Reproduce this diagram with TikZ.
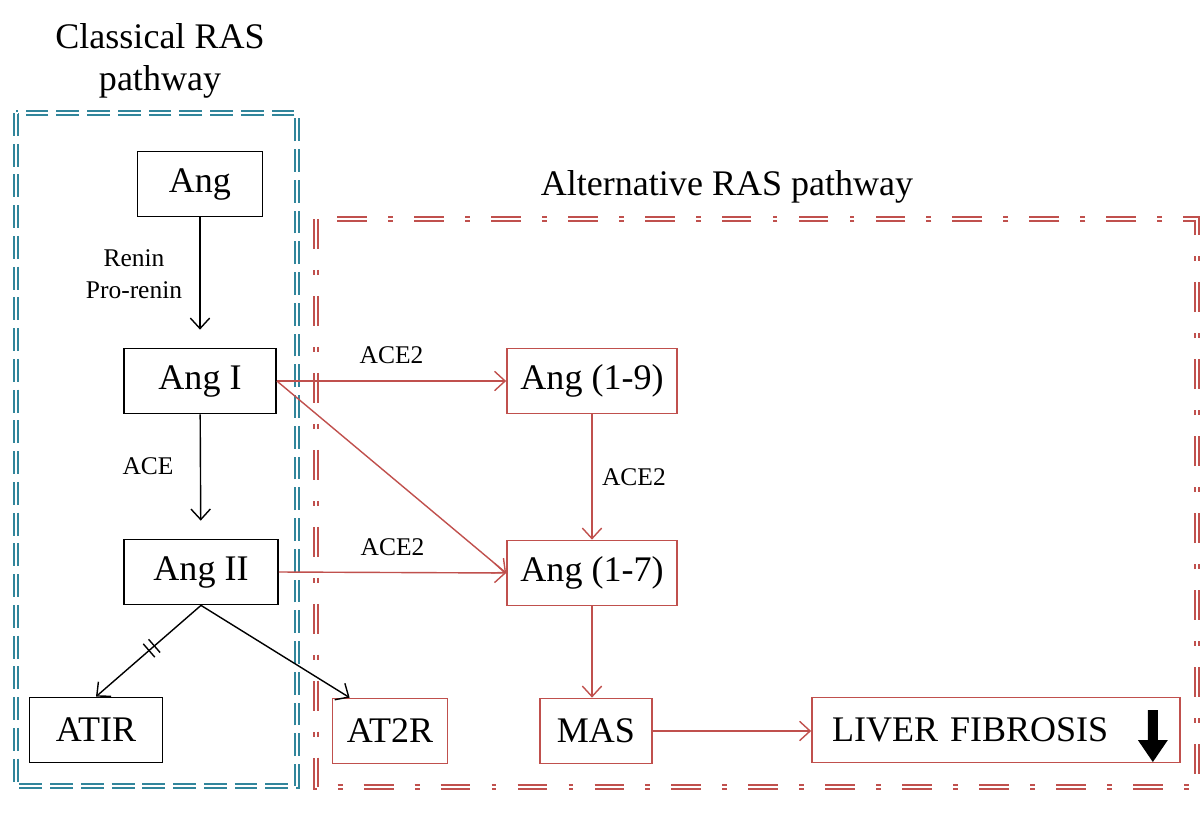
\documentclass[tikz,border=0pt]{standalone}
\usepackage{fontspec}
\setmainfont{Liberation Serif}
\usetikzlibrary{arrows.meta,decorations.markings}
\definecolor{rasblue}{RGB}{49,133,155}
\definecolor{rasred}{RGB}{192,80,77}

\tikzset{
  bigfont/.style={font=\fontsize{20.5}{24}\selectfont},
  smallfont/.style={font=\fontsize{14.5}{18}\selectfont},
  classbox/.style={draw=black, line width=1pt, bigfont, inner sep=0pt, minimum height=1.3cm},
  altbox/.style={classbox, draw=rasred},
  blackarrow/.style={black, line width=0.8pt, -{Straight Barb[length=6pt,width=11pt]}},
  redarrow/.style={rasred, line width=0.8pt, -{Straight Barb[length=6pt,width=11pt]}},
  blocked/.style={postaction=decorate, decoration={markings,
    mark=at position 0.47 with {\draw[-, line width=0.8pt] (-2pt,-5pt) -- (-2pt,5pt) (2pt,-5pt) -- (2pt,5pt);}}},
  frame/.style={line width=1.1pt, double=white, double distance=1.4pt},
}

\begin{document}
\begin{tikzpicture}[x=0.02cm,y=-0.02cm]
\useasboundingbox (0,0) rectangle (1201,812);
% Pathway frames
\draw[frame, rasblue, dash pattern=on 13pt off 4.5pt] (16,113) rectangle (297,786);
\draw[frame, rasred, dash pattern=on 17pt off 12pt on 2.8pt off 12pt] (316,219) rectangle (1197,787);
\node[bigfont, align=center] (classtitle) at (160,61) {Classical RAS\\pathway};
\node[bigfont] (alttitle) at (727,187) {Alternative RAS pathway};

% Classical boxes
\node[classbox, minimum width=2.5cm] (ang) at (200,184) {Ang};
\node[classbox, minimum width=3.04cm] (angI) at (200,381) {Ang I};
\node[classbox, minimum width=3.08cm] (angII) at (201,572) {Ang II};
\node[classbox, minimum width=2.66cm] (atir) at (96,730) {ATIR};

% Alternative boxes
\node[altbox, minimum width=2.3cm] (at2r) at (390,731) {AT2R};
\node[altbox, minimum width=3.4cm] (ang19) at (592,381) {Ang (1-9)};
\node[altbox, minimum width=3.4cm] (ang17) at (592,573) {Ang (1-7)};
\node[altbox, minimum width=2.24cm] (mas) at (596,731) {MAS};
\node[altbox, minimum width=7.36cm, text width=6.56cm, align=left] (liver) at (996,730) {LIVER FIBROSIS};
\fill[black] ([xshift=-0.56cm]liver.east) ++(-5,-20) -- ++(10,0) -- ++(0,30) -- ++(10,0) -- ++(-15,22) -- ++(-15,-22) -- ++(10,0) -- cycle;

% Classical arrows
\draw[blackarrow, shorten >=0.36cm] (ang) -- (angI);
\node[smallfont, align=center] (renin) at (134,274) {Renin\\Pro-renin};
\draw[blackarrow, shorten >=0.36cm] (angI) -- (angII);
\node[smallfont] (ace) at (148,466) {ACE};
\draw[blackarrow, blocked] (angII.south) -- (atir.north);
\draw[blackarrow] (angII.south) -- ([xshift=0.36cm]at2r.north west);

% Alternative arrows
\draw[redarrow] (angI.east) -- node[smallfont, black, above=6pt] (ace2a) {ACE2} (ang19.west);
\draw[redarrow] (angI.east) -- (ang17.west);
\draw[redarrow] (angII.east) -- node[smallfont, black, above=6pt] (ace2c) {ACE2} (ang17.west);
\draw[redarrow] (ang19) -- node[smallfont, black, right=2pt] (ace2b) {ACE2} (ang17);
\draw[redarrow] (ang17.south) -- (ang17.south |- mas.north);
\draw[redarrow] (mas.east) -- (mas.east -| liver.west);
\end{tikzpicture}
\end{document}
